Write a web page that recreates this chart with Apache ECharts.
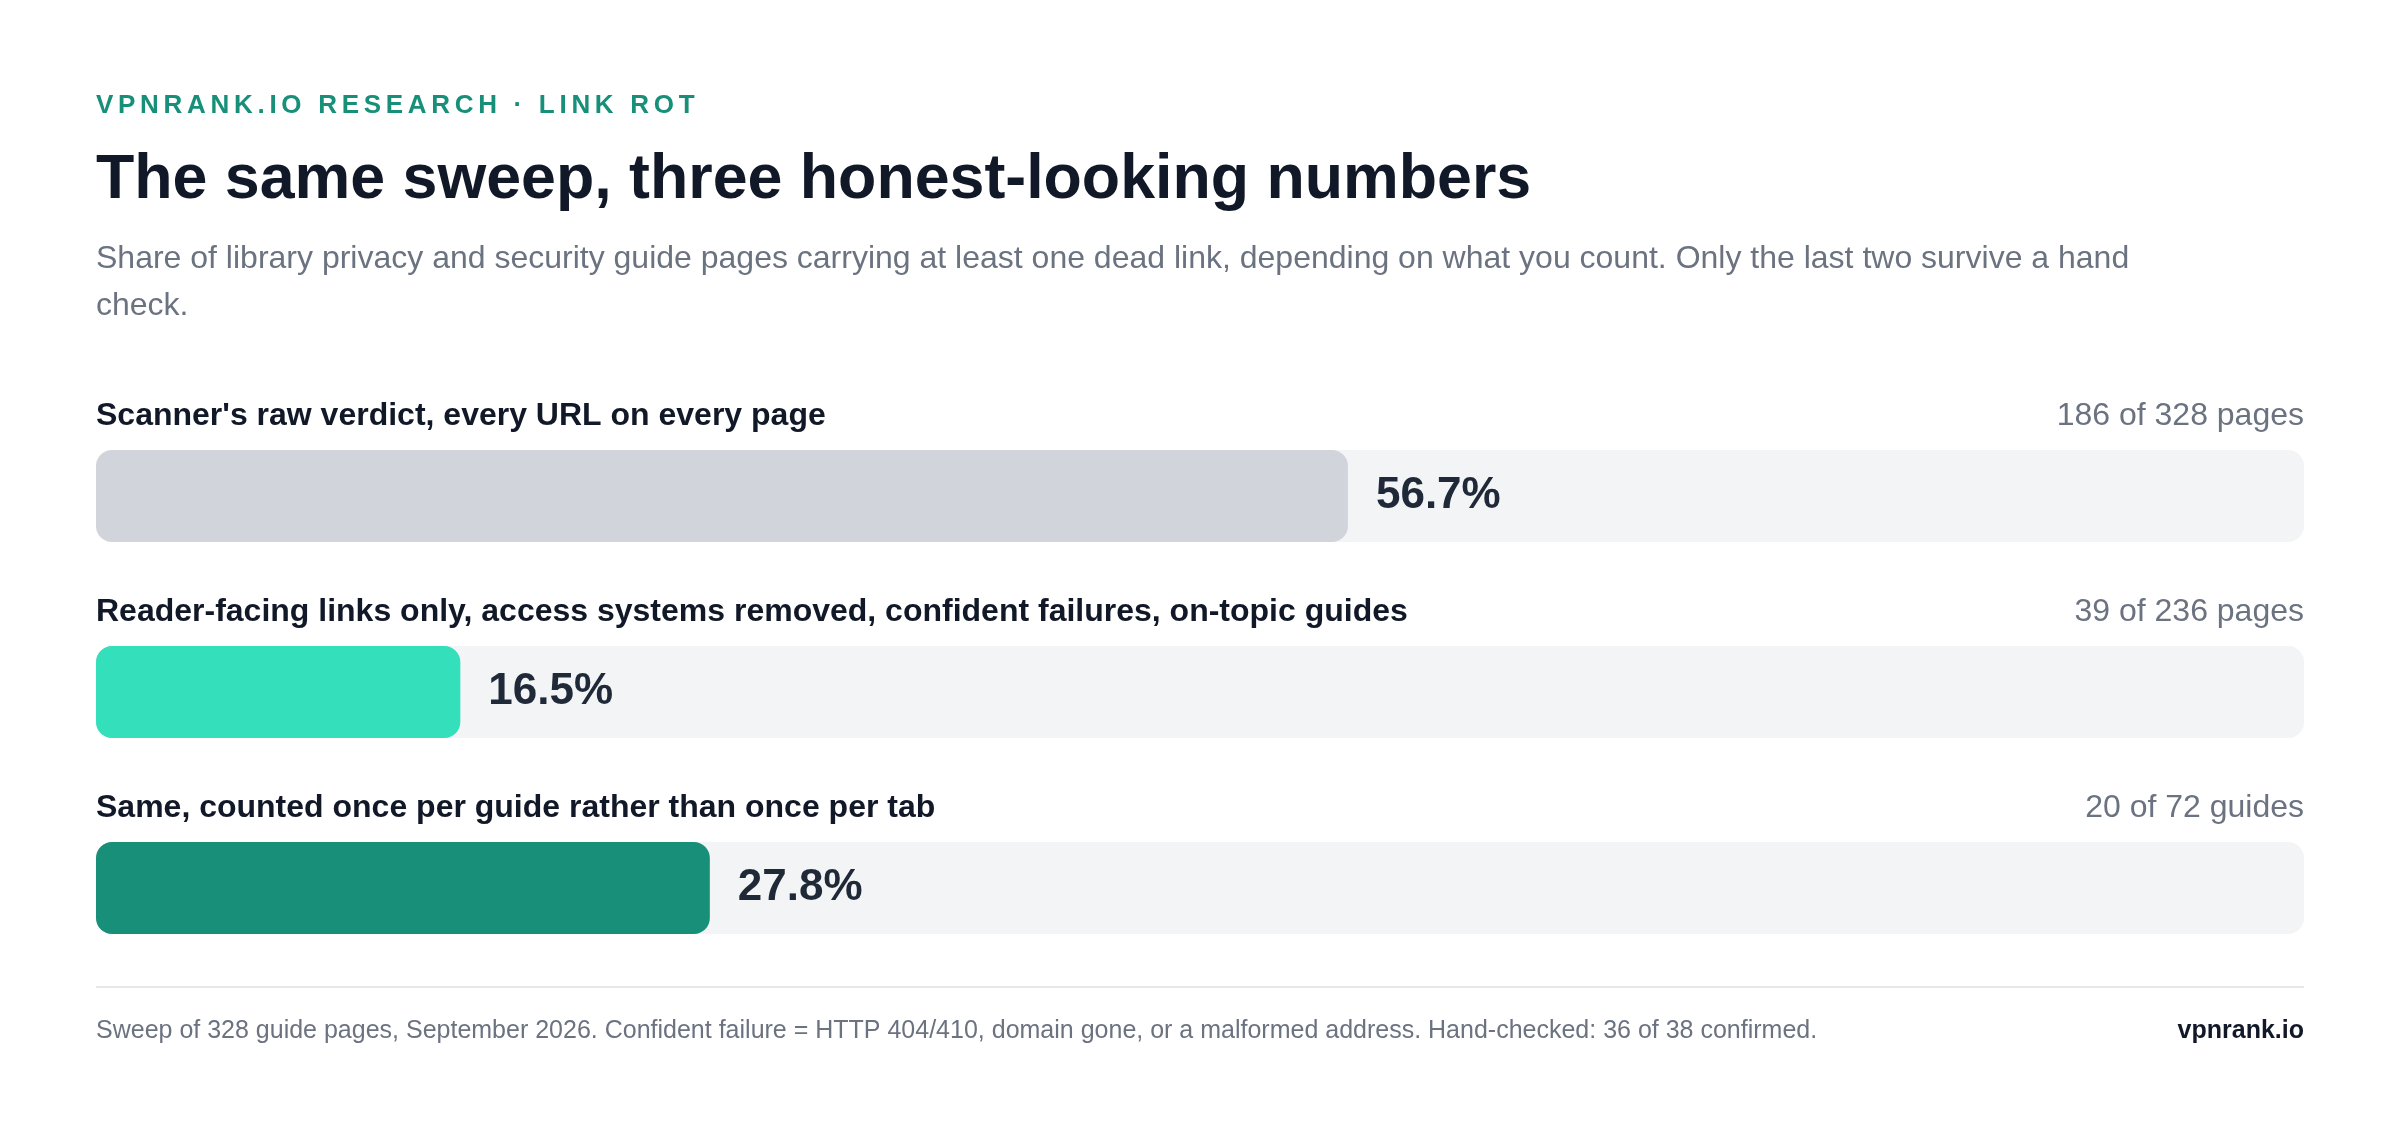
<!DOCTYPE html>
<html>
<head>
<meta charset="utf-8">
<script src="https://cdn.jsdelivr.net/npm/echarts@6/dist/echarts.min.js"></script>
<style>
html,body{margin:0;padding:0;background:#ffffff;}
#chart{width:2400px;height:1134px;}
</style>
</head>
<body>
<div id="chart"></div>
<script>
const kicker = "VPNRANK.IO RESEARCH · LINK ROT";
const headline = "The same sweep, three honest-looking numbers";
const subtitle = "Share of library privacy and security guide pages carrying at least one dead link, depending on what you count. Only the last two survive a hand\ncheck.";
const categories = [
  "Scanner's raw verdict, every URL on every page",
  "Reader-facing links only, access systems removed, confident failures, on-topic guides",
  "Same, counted once per guide rather than once per tab"
];
const shares = [56.7, 16.5, 27.8];
const counts = ["186 of 328 pages", "39 of 236 pages", "20 of 72 guides"];
const barColors = ["#d1d5db", "#34dfbb", "#178f79"];
const footnote = "Sweep of 328 guide pages, September 2026. Confident failure = HTTP 404/410, domain gone, or a malformed address. Hand-checked: 36 of 38 confirmed.";
const brand = "vpnrank.io";

const FONT = "'Liberation Sans', Arial, sans-serif";
const chart = echarts.init(document.getElementById('chart'), null, {renderer: 'canvas'});

const kickerRich = kicker.split('').map(function (ch) { return '{k|' + ch + '}'; }).join('');

const option = {
  backgroundColor: '#ffffff',
  animation: false,
  grid: {left: 96, right: 96, top: 398, height: 588, containLabel: false},
  xAxis: {type: 'value', min: 0, max: 100, show: false},
  yAxis: {type: 'category', data: categories, inverse: true, show: false},
  series: [
    {
      type: 'bar',
      data: shares.map(function (v, i) { return {value: v, itemStyle: {color: barColors[i]}}; }),
      barWidth: 92,
      showBackground: true,
      backgroundStyle: {color: '#f3f4f6', borderRadius: 16},
      itemStyle: {borderRadius: 16, opacity: 1},
      silent: true,
      label: {
        show: true,
        position: 'right',
        distance: 28,
        formatter: function (p) { return p.value.toFixed(1) + '%'; },
        fontFamily: FONT,
        fontSize: 44,
        fontWeight: 'bold',
        color: '#1f2937'
      }
    },
    {
      type: 'scatter',
      symbolSize: 0,
      silent: true,
      itemStyle: {opacity: 1},
      data: categories.map(function (c, i) { return [0, i]; }),
      label: {
        show: true,
        position: 'inside',
        align: 'left',
        verticalAlign: 'middle',
        offset: [0, -80],
        opacity: 1,
        formatter: function (p) { return categories[p.dataIndex]; },
        fontFamily: FONT,
        fontSize: 32,
        fontWeight: 'bold',
        color: '#111827'
      }
    },
    {
      type: 'scatter',
      symbolSize: 0,
      silent: true,
      itemStyle: {opacity: 1},
      data: counts.map(function (c, i) { return [100, i]; }),
      label: {
        show: true,
        position: 'inside',
        align: 'right',
        verticalAlign: 'middle',
        offset: [0, -80],
        opacity: 1,
        formatter: function (p) { return counts[p.dataIndex]; },
        fontFamily: FONT,
        fontSize: 32,
        color: '#6b7280'
      }
    }
  ],
  graphic: [
    {
      type: 'text', x: 96, y: 105.5, silent: true,
      style: {
        text: kickerRich, fill: '#178f79', align: 'left', verticalAlign: 'middle',
        fontFamily: FONT, fontSize: 26, fontWeight: 'bold',
        rich: {k: {fill: '#178f79', fontFamily: FONT, fontSize: 26, fontWeight: 'bold', padding: [0, 4.7, 0, 0]}}
      }
    },
    {
      type: 'text', x: 96, y: 180.5, silent: true,
      style: {text: headline, fill: '#111827', align: 'left', verticalAlign: 'middle',
        fontFamily: FONT, fontSize: 62.7, fontWeight: 'bold'}
    },
    {
      type: 'text', x: 96, y: 236, silent: true,
      style: {text: subtitle, fill: '#6b7280', align: 'left', verticalAlign: 'top',
        fontFamily: FONT, fontSize: 32, lineHeight: 47}
    },
    {
      type: 'line', silent: true,
      shape: {x1: 96, y1: 987, x2: 2304, y2: 987},
      style: {stroke: '#e5e7eb', lineWidth: 2}
    },
    {
      type: 'text', x: 96, y: 1031, silent: true,
      style: {text: footnote, fill: '#6b7280', align: 'left', verticalAlign: 'middle',
        fontFamily: FONT, fontSize: 25}
    },
    {
      type: 'text', x: 2304, y: 1031, silent: true,
      style: {text: brand, fill: '#111827', align: 'right', verticalAlign: 'middle',
        fontFamily: FONT, fontSize: 25, fontWeight: 'bold'}
    }
  ]
};
chart.setOption(option);
</script>
</body>
</html>
